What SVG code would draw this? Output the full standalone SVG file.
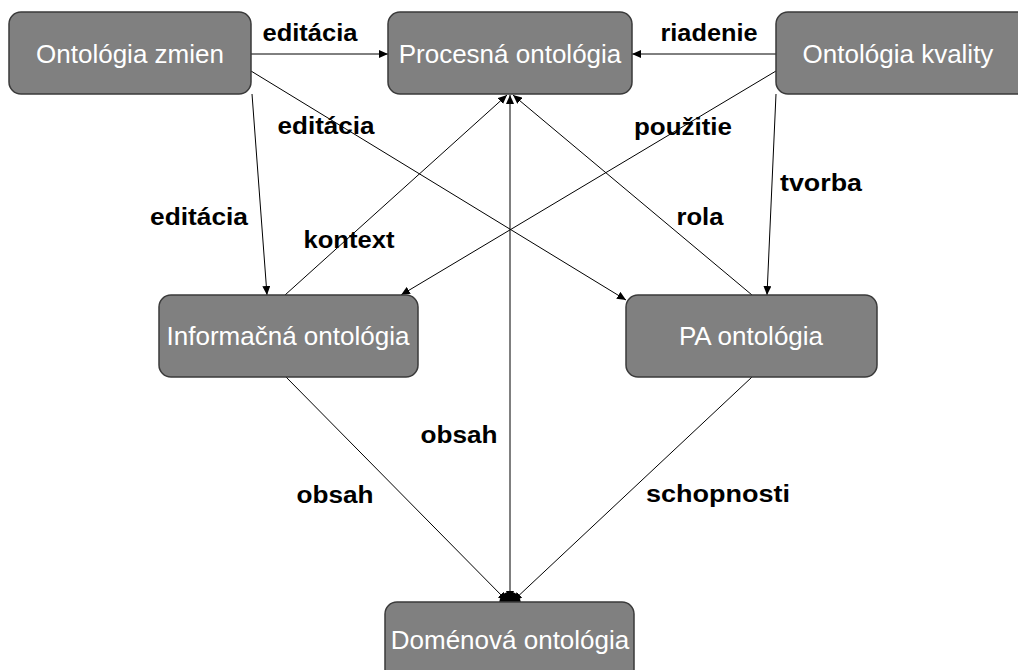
<svg xmlns="http://www.w3.org/2000/svg" width="1018" height="670" viewBox="0 0 1018 670">
  <style>
    .node rect { fill: #808080; stroke: #3a3a3a; stroke-width: 1.5; }
    .node text { fill: #ffffff; font-family: "Liberation Sans", Arial, sans-serif; font-size: 26px; text-anchor: middle; dominant-baseline: central; }
    .edge { stroke: #000000; stroke-width: 1; fill: none; }
    .lbl { fill: #000000; font-family: "Liberation Sans", Arial, sans-serif; font-weight: bold; font-size: 23px; text-anchor: middle; dominant-baseline: central; }
  </style>
  <defs>
    <marker id="arrow" markerUnits="userSpaceOnUse" markerWidth="10" markerHeight="8" refX="9" refY="4" orient="auto">
      <path d="M0,0 L9,4 L0,8 z" fill="#000000"/>
    </marker>
    <marker id="arrowStart" markerUnits="userSpaceOnUse" markerWidth="10" markerHeight="8" refX="1" refY="4" orient="auto">
      <path d="M10,0 L1,4 L10,8 z" fill="#000000"/>
    </marker>
  </defs>

  <rect width="1018" height="670" fill="#ffffff"/>

  <!-- connectors -->
  <g id="connectors">
    <line class="edge" x1="251" y1="54" x2="388" y2="54" marker-end="url(#arrow)"/>
    <line class="edge" x1="776" y1="54" x2="632" y2="54" marker-end="url(#arrow)"/>
    <line class="edge" x1="252" y1="94" x2="267" y2="295" marker-end="url(#arrow)"/>
    <line class="edge" x1="251" y1="71" x2="626" y2="300" marker-end="url(#arrow)"/>
    <line class="edge" x1="776" y1="71" x2="401" y2="295" marker-end="url(#arrow)"/>
    <line class="edge" x1="776" y1="94" x2="767" y2="295" marker-end="url(#arrow)"/>
    <line class="edge" x1="285" y1="295" x2="507" y2="95" marker-end="url(#arrow)"/>
    <line class="edge" x1="752" y1="295" x2="513" y2="95" marker-end="url(#arrow)"/>
    <line class="edge" x1="510" y1="600" x2="510" y2="95" marker-start="url(#arrowStart)" marker-end="url(#arrow)"/>
    <line class="edge" x1="286" y1="377" x2="507" y2="601" marker-end="url(#arrow)"/>
    <line class="edge" x1="752" y1="377" x2="513" y2="601" marker-end="url(#arrow)"/>
    <!-- heads meeting at the top of Doménová ontológia merge into one blob -->
    <path d="M499,604 Q500,592 510,592 Q520,592 521,604 z" fill="#000000"/>

    <text class="lbl" x="310" y="33" textLength="95" lengthAdjust="spacingAndGlyphs">editácia</text>
    <text class="lbl" x="709" y="33" textLength="97" lengthAdjust="spacingAndGlyphs">riadenie</text>
    <text class="lbl" x="326" y="126" textLength="97" lengthAdjust="spacingAndGlyphs">editácia</text>
    <text class="lbl" x="683" y="127" textLength="98" lengthAdjust="spacingAndGlyphs">použitie</text>
    <text class="lbl" x="821" y="183" textLength="82" lengthAdjust="spacingAndGlyphs">tvorba</text>
    <text class="lbl" x="199" y="217" textLength="98" lengthAdjust="spacingAndGlyphs">editácia</text>
    <text class="lbl" x="700" y="217" textLength="47" lengthAdjust="spacingAndGlyphs">rola</text>
    <text class="lbl" x="349" y="240" textLength="91" lengthAdjust="spacingAndGlyphs">kontext</text>
    <text class="lbl" x="459" y="435" textLength="77" lengthAdjust="spacingAndGlyphs">obsah</text>
    <text class="lbl" x="335" y="495" textLength="77" lengthAdjust="spacingAndGlyphs">obsah</text>
    <text class="lbl" x="718" y="494" textLength="144" lengthAdjust="spacingAndGlyphs">schopnosti</text>
  </g>

  <!-- nodes -->
  <g id="ontologia-zmien" class="node">
    <rect x="9" y="12" width="242" height="82" rx="12"/>
    <text x="130" y="54">Ontológia zmien</text>
  </g>
  <g id="procesna-ontologia" class="node">
    <rect x="388" y="12" width="244" height="82" rx="12"/>
    <text x="510" y="54">Procesná ontológia</text>
  </g>
  <g id="ontologia-kvality" class="node">
    <rect x="776" y="12" width="260" height="82" rx="12"/>
    <text x="898" y="54">Ontológia kvality</text>
  </g>
  <g id="informacna-ontologia" class="node">
    <rect x="159" y="295" width="259" height="82" rx="12"/>
    <text x="288" y="336">Informačná ontológia</text>
  </g>
  <g id="pa-ontologia" class="node">
    <rect x="626" y="295" width="251" height="82" rx="12"/>
    <text x="751" y="336">PA ontológia</text>
  </g>
  <g id="domenova-ontologia" class="node">
    <rect x="385" y="602" width="249" height="84" rx="12"/>
    <text x="510" y="640">Doménová ontológia</text>
  </g>
</svg>
